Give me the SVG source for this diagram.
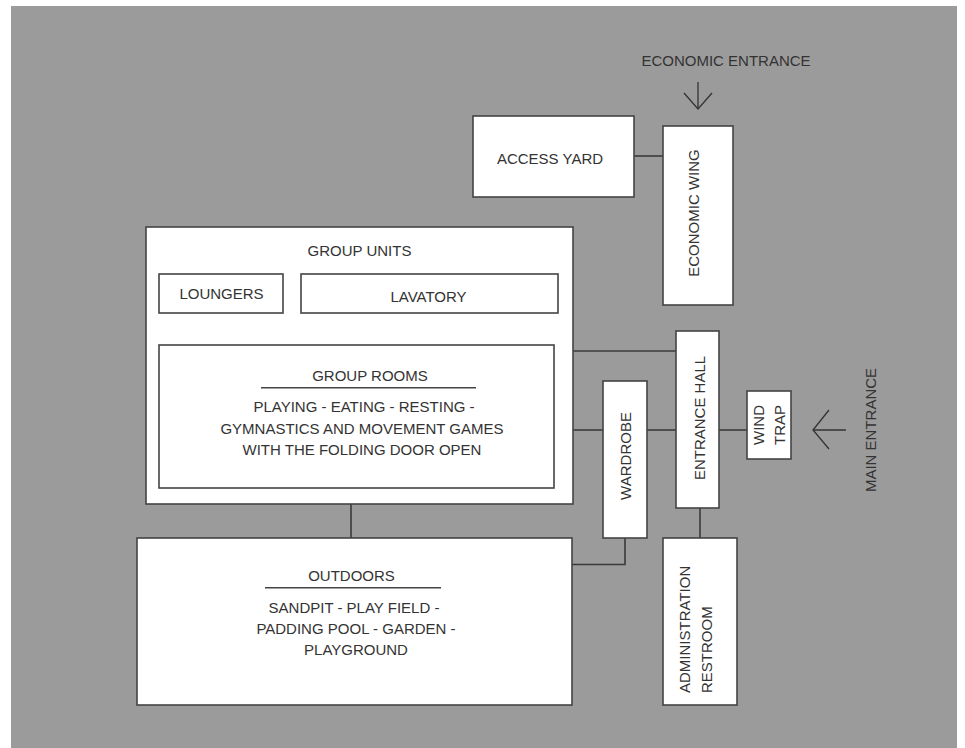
<svg xmlns="http://www.w3.org/2000/svg" width="965" height="748" viewBox="0 0 965 748">
<style>
.box{fill:#fff;stroke:#444;stroke-width:1.6}
.ln{fill:none;stroke:#3a3a3a;stroke-width:1.6}
.ar{fill:none;stroke:#333;stroke-width:1.3}
text{font-family:"Liberation Sans",Arial,sans-serif;font-size:15px;fill:#333}
.c{text-anchor:middle}
</style>
<rect x="0" y="0" width="965" height="748" fill="#fff"/>
<rect x="11" y="6" width="946" height="742" fill="#9b9b9b"/>
<g id="connectors">
<line class="ln" x1="634" y1="156" x2="663" y2="156"/>
<line class="ln" x1="233" y1="313" x2="233" y2="345"/>
<line class="ln" x1="429" y1="313" x2="429" y2="345"/>
<line class="ln" x1="573" y1="351" x2="676" y2="351"/>
<line class="ln" x1="573" y1="430" x2="603" y2="430"/>
<line class="ln" x1="647" y1="430" x2="676" y2="430"/>
<line class="ln" x1="719" y1="430" x2="747" y2="430"/>
<line class="ln" x1="351" y1="504" x2="351" y2="538"/>
<polyline class="ln" points="625,538 625,564.5 572,564.5"/>
<line class="ln" x1="700" y1="508" x2="700" y2="538"/>
</g>
<g id="economic-entrance">
<text class="c" x="726" y="66">ECONOMIC ENTRANCE</text>
<line class="ar" x1="698" y1="82" x2="698" y2="109"/>
<polyline class="ar" points="684,93 698,109 712,93"/>
</g>
<g id="access-yard">
<rect class="box" x="473" y="116" width="161" height="81"/>
<text class="c" x="550" y="163.5">ACCESS YARD</text>
</g>
<g id="economic-wing">
<rect class="box" x="663" y="126" width="70" height="179"/>
<text class="c" transform="translate(698.5,213) rotate(-90)">ECONOMIC WING</text>
</g>
<g id="group-units">
<rect class="box" x="146" y="227" width="427" height="277"/>
<text class="c" x="359.5" y="255.5">GROUP UNITS</text>
</g>
<g id="loungers">
<rect class="box" x="159" y="274" width="124" height="39"/>
<text class="c" x="221.5" y="298.5">LOUNGERS</text>
</g>
<g id="lavatory">
<rect class="box" x="301" y="274" width="257" height="39"/>
<text class="c" x="428.5" y="301.5">LAVATORY</text>
</g>
<g id="group-rooms">
<rect class="box" x="159" y="345" width="395" height="143"/>
<text class="c" x="370" y="380.5">GROUP ROOMS</text>
<line x1="261" y1="387.7" x2="476" y2="387.7" stroke="#444" stroke-width="1.6"/>
<text class="c" x="364" y="412">PLAYING - EATING - RESTING -</text>
<text class="c" x="362" y="433.5">GYMNASTICS AND MOVEMENT GAMES</text>
<text class="c" x="362" y="454.5">WITH THE FOLDING DOOR OPEN</text>
</g>
<g id="wardrobe">
<rect class="box" x="603" y="381" width="44" height="157"/>
<text class="c" transform="translate(630.5,456) rotate(-90)">WARDROBE</text>
</g>
<g id="entrance-hall">
<rect class="box" x="676" y="331" width="43" height="177"/>
<text class="c" transform="translate(704.5,418) rotate(-90)">ENTRANCE HALL</text>
</g>
<g id="wind-trap">
<rect class="box" x="747" y="391" width="44" height="68"/>
<text class="c" transform="translate(763.5,425) rotate(-90)">WIND</text>
<text class="c" transform="translate(785,425) rotate(-90)">TRAP</text>
</g>
<g id="main-entrance">
<line class="ar" x1="846" y1="430" x2="813" y2="430"/>
<polyline class="ar" points="829,410 813,430 829,449"/>
<text class="c" transform="translate(876,430) rotate(-90)">MAIN ENTRANCE</text>
</g>
<g id="outdoors">
<rect class="box" x="137" y="538" width="435" height="167"/>
<text class="c" x="351.5" y="580.5">OUTDOORS</text>
<line x1="265" y1="587.7" x2="441" y2="587.7" stroke="#444" stroke-width="1.6"/>
<text class="c" x="354" y="612.5">SANDPIT - PLAY FIELD -</text>
<text class="c" x="356" y="633.5">PADDING POOL - GARDEN -</text>
<text class="c" x="356" y="655">PLAYGROUND</text>
</g>
<g id="administration">
<rect class="box" x="663" y="538" width="74" height="167"/>
<text transform="translate(690,693) rotate(-90)">ADMINISTRATION</text>
<text transform="translate(711.5,693) rotate(-90)">RESTROOM</text>
</g>
</svg>
